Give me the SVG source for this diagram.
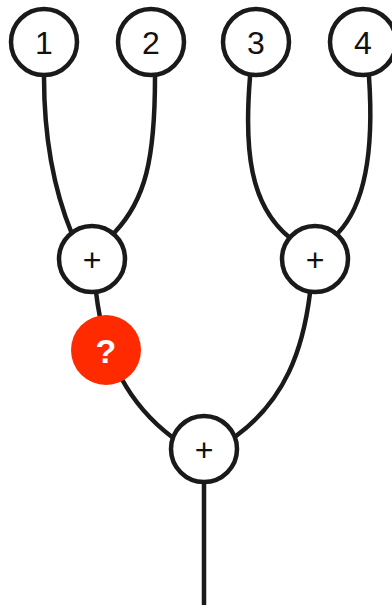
<svg xmlns="http://www.w3.org/2000/svg" width="392" height="605" viewBox="0 0 392 605">
<style>
.edge{fill:none;stroke:#1a1a1a;stroke-width:4.5;stroke-linecap:butt}
.node{fill:#fff;stroke:#1a1a1a;stroke-width:4.5}
.lbl{font-family:"Liberation Sans",Arial,sans-serif;font-size:32px;fill:#111;text-anchor:middle}
.q{fill:#ff2a00}
.qt{font-family:"Liberation Sans",Arial,sans-serif;font-size:34px;font-weight:bold;fill:#fff;text-anchor:middle}
</style>
<rect width="392" height="605" fill="#fff"/>
<g id="connectors">
<path class="edge" d="M44,42 L44,77 C44,150 58,200 72,234 L80,252"/>
<path class="edge" d="M152,42 L155,77 C155,160 145,200 115,232 L100,250"/>
<path class="edge" d="M255,42 L250,77 C244,150 250,205 289,237 L305,252"/>
<path class="edge" d="M364,42 L369,77 C374,150 365,205 338,233 L325,250"/>
<path class="edge" d="M92,259 L96,292 C104,360 130,405 172,437 L190,445"/>
<path class="edge" d="M315,259 L310,293 C303,350 285,400 236,436 L220,445"/>
<path class="edge" d="M204,449 L204,605"/>
</g>
<g id="n1"><circle class="node" cx="44" cy="42" r="33"/><text class="lbl" x="44" y="53.5">1</text></g>
<g id="n2"><circle class="node" cx="151" cy="42" r="33"/><text class="lbl" x="151" y="53.5">2</text></g>
<g id="n3"><circle class="node" cx="256" cy="42" r="33"/><text class="lbl" x="256" y="53.5">3</text></g>
<g id="n4"><circle class="node" cx="363" cy="42" r="33"/><text class="lbl" x="363" y="53.5">4</text></g>
<g id="p1"><circle class="node" cx="92" cy="259" r="33"/><text class="lbl" x="92" y="270.5">+</text></g>
<g id="p2"><circle class="node" cx="315" cy="259" r="33"/><text class="lbl" x="315" y="270.5">+</text></g>
<g id="p3"><circle class="node" cx="204" cy="449" r="33"/><text class="lbl" x="204" y="460.5">+</text></g>
<g id="q"><circle class="q" cx="106" cy="350" r="35"/><text class="qt" x="106" y="363">?</text></g>
</svg>
